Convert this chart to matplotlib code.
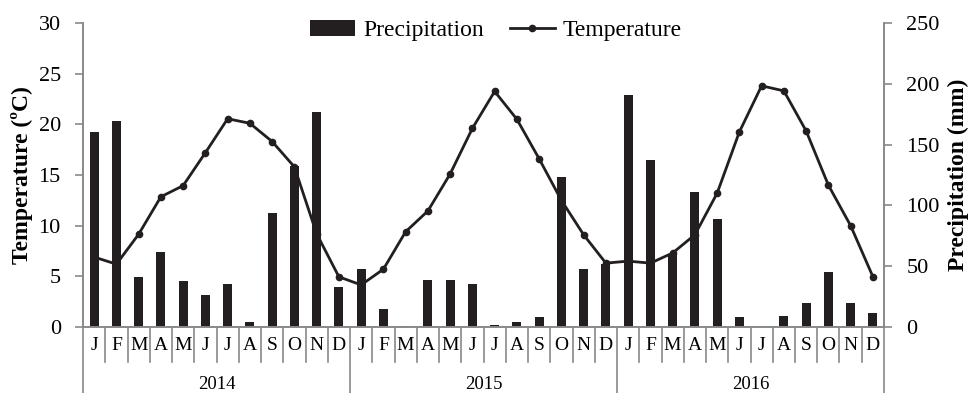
import matplotlib.pyplot as plt
import numpy as np

plt.rcParams['font.family'] = ['Liberation Serif', 'DejaVu Serif']

# month labels and years
months = ['J', 'F', 'M', 'A', 'M', 'J', 'J', 'A', 'S', 'O', 'N', 'D']
years = ['2014', '2015', '2016']

# monthly precipitation (mm)
precip_2014 = [160, 169, 41.5, 61.5, 38, 26, 35.5, 4, 94, 132, 177, 32.5]
precip_2015 = [47.5, 15, 1, 38.5, 39, 35, 1.5, 4, 8.5, 123, 48, 52]
precip_2016 = [191, 137, 59, 111, 89, 8.2, 0, 9, 20, 45, 20, 11.5]

# monthly mean temperature (degC)
temp_2014 = [6.9, 6.2, 9.15, 12.85, 13.95, 17.2, 20.55, 20.1, 18.3, 15.8, 9.2, 4.95]
temp_2015 = [4.15, 5.7, 9.4, 11.45, 15.1, 19.6, 23.25, 20.5, 16.6, 12.5, 9.1, 6.3]
temp_2016 = [6.5, 6.3, 7.3, 9.1, 13.2, 19.25, 23.8, 23.3, 19.35, 14.0, 10.0, 4.97]

precip = precip_2014 + precip_2015 + precip_2016
temp = temp_2014 + temp_2015 + temp_2016
x = np.arange(len(temp))

grey = '#898989'
dark = '#231f20'

fig = plt.figure(figsize=(9.71, 3.93), dpi=100)
ax1 = fig.add_axes([0.0855, 0.168, 0.8249, 0.7735])
ax2 = ax1.twinx()

# bars on right axis, line on left axis drawn on top
bars = ax2.bar(x, precip, width=0.4, color=dark, label='Precipitation')
line, = ax1.plot(x, temp, color=dark, lw=2.0, marker='o', ms=4.5, label='Temperature')
ax1.set_zorder(ax2.get_zorder() + 1)
ax1.patch.set_visible(False)

ax1.set_xlim(-0.5, len(x) - 0.5)
ax1.set_ylim(0, 30)
ax2.set_ylim(0, 250)
ax1.set_yticks(np.arange(0, 31, 5))
ax2.set_yticks(np.arange(0, 251, 50))
ax1.set_xticks([])

for ax in (ax1, ax2):
    ax.spines['top'].set_visible(False)
    for s in ('left', 'right', 'bottom'):
        ax.spines[s].set_color(grey)
        ax.spines[s].set_linewidth(1.2)
    ax.tick_params(axis='y', colors=grey, labelcolor='black', labelsize=16,
                   length=6, width=1.2, pad=10)

ax1.set_ylabel('Temperature (ºC)', fontsize=17, fontweight='bold', labelpad=4)
ax2.set_ylabel('Precipitation (mm)', fontsize=17, fontweight='bold', labelpad=6)

# category axis: month labels, separators, year labels
trans = ax1.get_xaxis_transform()
for i in range(len(x)):
    ax1.text(x[i], -0.062, months[i % 12], transform=trans, ha='center', va='center',
             fontsize=14)
for b in np.arange(len(x) + 1) - 0.5:
    if int(b + 0.5) % 12 == 0:
        ax1.plot([b, b], [0, -0.22], transform=trans, color=grey, lw=1.2, clip_on=False)
    else:
        ax1.plot([b, b], [0, -0.115], transform=trans, color=grey, lw=1.2, clip_on=False)
for k, yr in enumerate(years):
    ax1.text(12 * k + 5.5, -0.19, yr, transform=trans, ha='center', va='center',
             fontsize=13.5)

fig.legend([bars, line], ['Precipitation', 'Temperature'], loc='center',
           bbox_to_anchor=(0.511, 0.922), ncol=2, frameon=False, fontsize=17,
           handlelength=1.9, handletextpad=0.35, columnspacing=1.1)

plt.savefig('out.png', dpi=100)
